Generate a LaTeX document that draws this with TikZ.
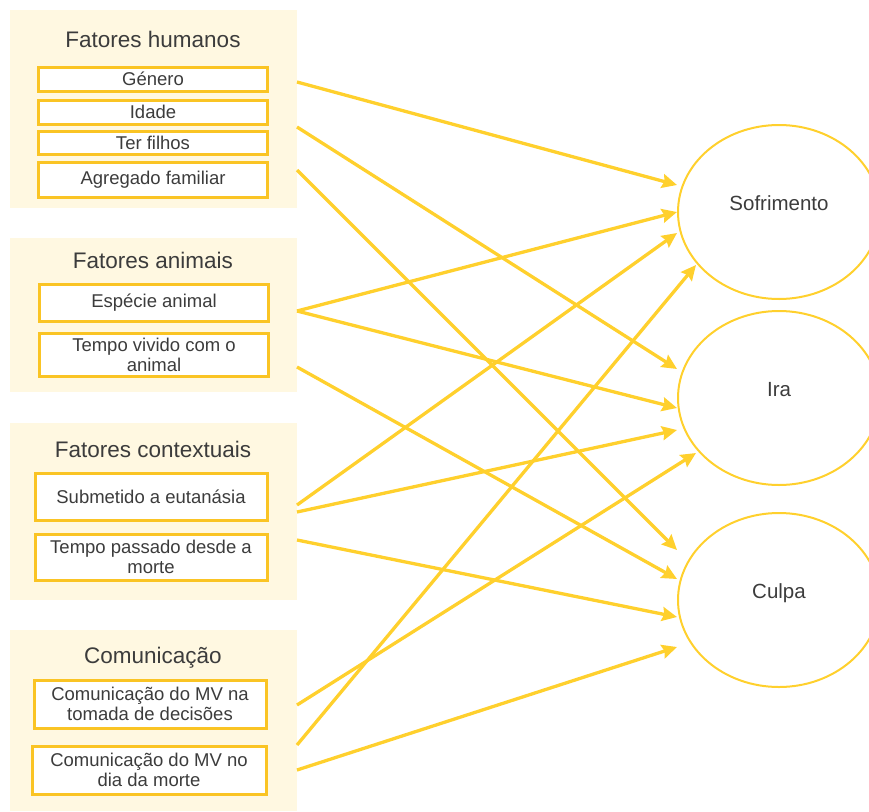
\documentclass[tikz,border=0pt]{standalone}
\usepackage{fontspec}
\setmainfont{Liberation Sans}
\usetikzlibrary{positioning,arrows.meta,shapes.geometric}
\definecolor{cream}{RGB}{255,248,225}
\definecolor{gold}{RGB}{255,208,45}
\definecolor{boxgold}{RGB}{250,196,36}
\definecolor{ink}{RGB}{60,60,60}
\tikzset{
  panel/.style={
    rectangle,
    fill=cream,
    draw=none,
    minimum width=287pt,
    inner sep=0pt},
  heading/.style={
    text=ink,
    font=\fontsize{22.5}{27}\selectfont},
  factor/.style={
    rectangle,
    fill=white,
    draw=boxgold, line width=3pt,
    text=ink,
    align=center,
    inner sep=0pt,
    minimum width=229pt,
    font=\fontsize{18.5}{20}\selectfont},
  emotion/.style={
    ellipse,
    draw=gold, line width=2pt,
    minimum width=202pt,
    minimum height=174pt,
    text=ink,
    text height=15pt, text depth=18pt,
    font=\fontsize{20.5}{24}\selectfont},
  link/.style={draw=gold, line width=3.3pt,
    -{Triangle[length=15pt,width=14pt,inset=2pt]}},
}

\begin{document}
\begin{tikzpicture}[x=1pt,y=-1pt]
  \useasboundingbox (0,0) rectangle (869,811);

  % grupos de fatores
  \node[panel, minimum height=198pt] (hum) at (153.5,109) {};
  \node[panel, minimum height=154pt] (ani) at (153.5,315) {};
  \node[panel, minimum height=177pt] (ctx) at (153.5,511.5) {};
  \node[panel, minimum height=181pt] (com) at (153.5,720.5) {};

  \node[heading] (humT) at (153,39) {Fatores humanos};
  \node[factor, minimum height=24pt] (gen) at (153,79) {Género};
  \node[factor, minimum height=24pt] (ida) at (153,112) {Idade};
  \node[factor, minimum height=23pt] (fil) at (153,142.5) {Ter filhos};
  \node[factor, minimum height=35pt] (agr) at (153,179.5) {Agregado familiar};

  \node[heading] (aniT) at (153,260) {Fatores animais};
  \node[factor, minimum height=37pt] (esp) at (154,302.5) {Espécie animal};
  \node[factor, minimum height=43pt] (tvi) at (154,354.5) {Tempo vivido com o\\animal};

  \node[heading] (ctxT) at (153,449) {Fatores contextuais};
  \node[factor, minimum height=47pt, minimum width=232pt] (sub) at (151,496.5) {Submetido a eutanásia};
  \node[factor, minimum height=46pt, minimum width=232pt] (tpa) at (151,557) {Tempo passado desde a\\morte};

  \node[heading] (comT) at (153,658) {Comunicação};
  \node[factor, minimum height=48pt, minimum width=232pt] (cdec) at (150,704) {Comunicação do MV na\\tomada de decisões};
  \node[factor, minimum height=48pt, minimum width=234pt] (cmor) at (149,770) {Comunicação do MV no\\dia da morte};

  % resultados
  \node[emotion] (sof) at (779,212) {Sofrimento};
  \node[emotion] (ira) at (779,398) {Ira};
  \node[emotion] (cul) at (779,600) {Culpa};

  % saidas das setas
  \coordinate (hum1) at (297,82);
  \coordinate (hum2) at (297,127);
  \coordinate (hum3) at (297,170);
  \coordinate (ani1) at (297,311);
  \coordinate (ani2) at (297,367);
  \coordinate (ctx1) at (297,505);
  \coordinate (ctx2) at (297,512);
  \coordinate (ctx3) at (297,540);
  \coordinate (com1) at (297,705);
  \coordinate (com2) at (297,745);
  \coordinate (com3) at (297,770);

  \draw[link] (hum1) -- ([yshift=27pt]sof.west);
  \draw[link] (hum2) -- ([yshift=29pt]ira.west);
  \draw[link] (hum3) -- ([yshift=50pt]cul.west);
  \draw[link] (ani1) -- (sof.west);
  \draw[link] (ani1) -- ([yshift=-10pt]ira.west);
  \draw[link] (ani2) -- ([yshift=21pt]cul.west);
  \draw[link] (ctx1) -- ([yshift=-21pt]sof.west);
  \draw[link] (ctx2) -- ([yshift=-32pt]ira.west);
  \draw[link] (ctx3) -- ([yshift=-17pt]cul.west);
  \draw[link] (com1) -- ([xshift=19pt,yshift=-55pt]ira.west);
  \draw[link] (com2) -- ([xshift=19pt,yshift=-53pt]sof.west);
  \draw[link] (com3) -- ([yshift=-47pt]cul.west);
\end{tikzpicture}
\end{document}
